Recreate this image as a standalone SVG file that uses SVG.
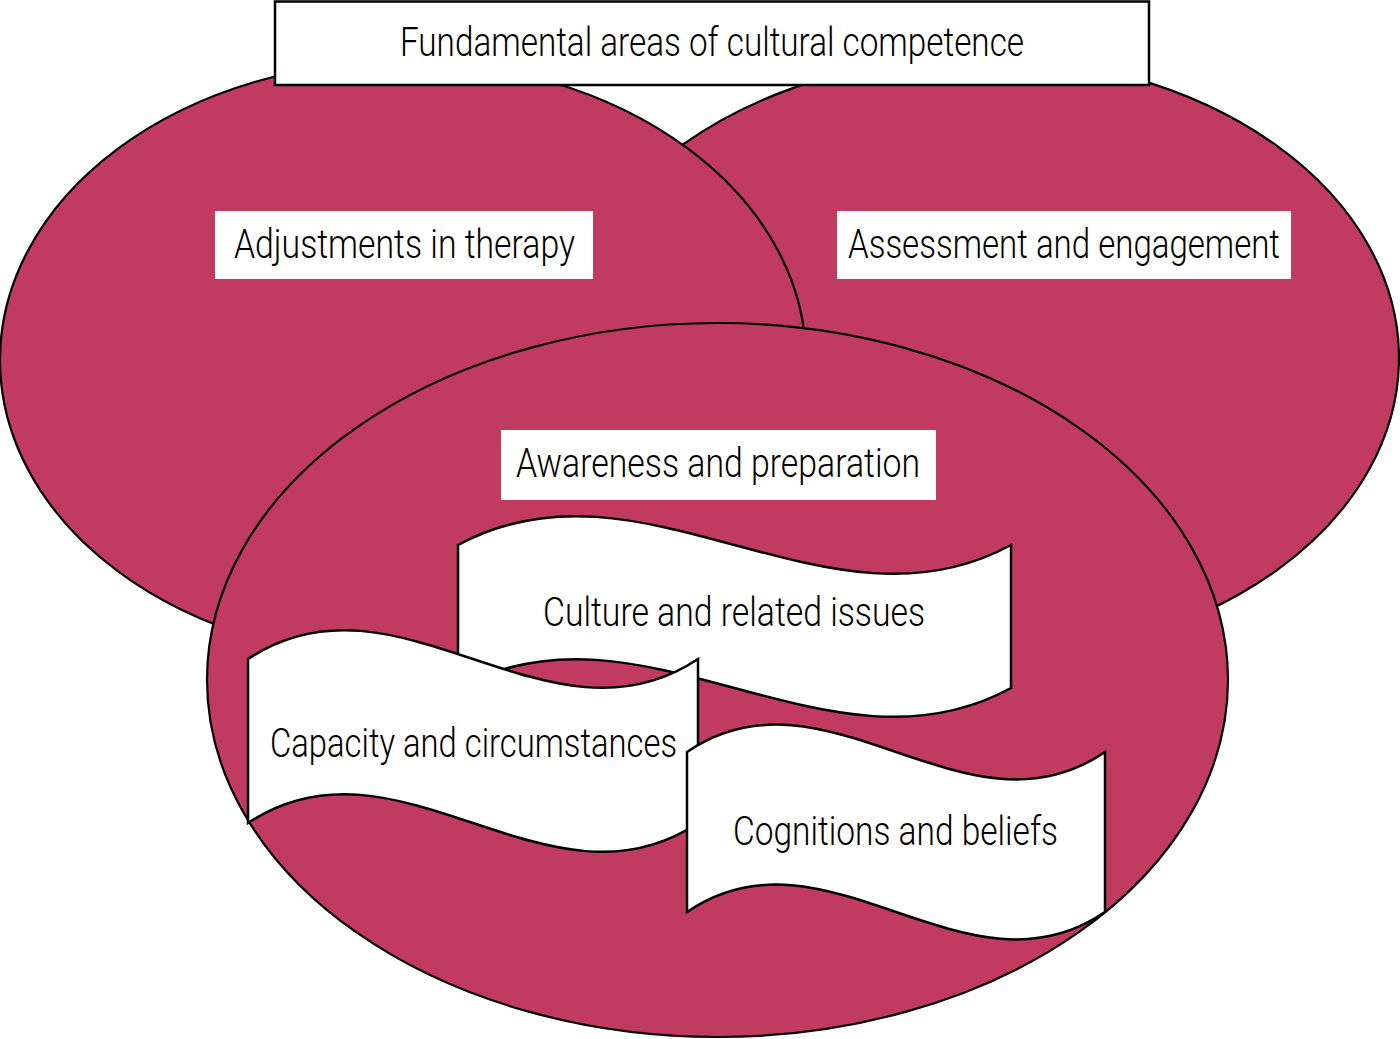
<svg xmlns="http://www.w3.org/2000/svg" width="1400" height="1039" viewBox="0 0 1400 1039">
<style>
.bg{fill:#ffffff}
.ell{fill:#C13B60;stroke:#000;stroke-width:2.2}
.ban{fill:#ffffff;stroke:#000;stroke-width:2.5;stroke-linejoin:miter}
.lbl{fill:#ffffff;stroke:none}
.ttl{fill:#ffffff;stroke:#000;stroke-width:2.5}
.t{font-family:Roboto,"Liberation Sans Narrow","Liberation Sans",Arial,sans-serif;font-weight:300;font-size:40px;fill:#000}
</style>
<rect class="bg" x="0" y="0" width="1400" height="1039"/>
<g id="connectors"></g>
<g id="assessment">
<ellipse class="ell" cx="979" cy="358" rx="420" ry="301"/>
</g>
<g id="adjustments">
<ellipse class="ell" cx="403" cy="360" rx="403" ry="299"/>
</g>
<g id="awareness">
<ellipse class="ell" cx="717.5" cy="680" rx="510.5" ry="357"/>
</g>
<g id="title">
<rect class="ttl" x="275" y="1.5" width="874" height="83.5"/>
<text class="t" x="400" y="56" textLength="624" lengthAdjust="spacingAndGlyphs">Fundamental areas of cultural competence</text>
</g>
<g id="label-adjustments">
<rect class="lbl" x="215" y="211" width="378" height="68"/>
<text class="t" x="234" y="258" textLength="341" lengthAdjust="spacingAndGlyphs">Adjustments in therapy</text>
</g>
<g id="label-assessment">
<rect class="lbl" x="837" y="211" width="454" height="68"/>
<text class="t" x="848" y="258" textLength="432" lengthAdjust="spacingAndGlyphs">Assessment and engagement</text>
</g>
<g id="label-awareness">
<rect class="lbl" x="501" y="430" width="435" height="70"/>
<text class="t" x="516" y="477" textLength="404" lengthAdjust="spacingAndGlyphs">Awareness and preparation</text>
</g>
<g id="culture">
<path class="ban" d="M458 545 C642 445 827 645 1011 545 L1011 688 C827 788 642 588 458 688 Z"/>
<text class="t" x="543" y="626" textLength="382" lengthAdjust="spacingAndGlyphs">Culture and related issues</text>
</g>
<g id="capacity">
<path class="ban" d="M248 659 C398 559 548 759 698 659 L698 823 C548 923 398 723 248 823 Z"/>
<text class="t" x="270" y="757" textLength="407" lengthAdjust="spacingAndGlyphs">Capacity and circumstances</text>
</g>
<g id="cognitions">
<path class="ban" d="M687 752 C826 657 966 847 1105 752 L1105 912 C966 1007 826 817 687 912 Z"/>
<text class="t" x="733" y="845" textLength="325" lengthAdjust="spacingAndGlyphs">Cognitions and beliefs</text>
</g>
</svg>
